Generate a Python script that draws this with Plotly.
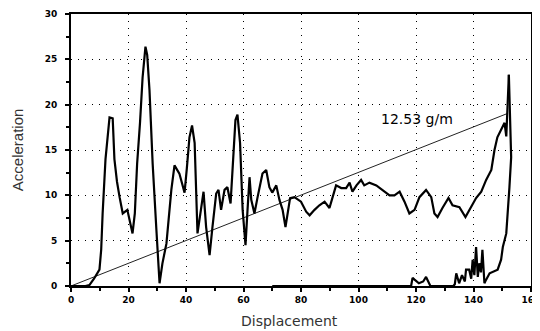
import plotly.graph_objects as go

# Loading curve (displacement, acceleration)
load_x = [0, 5, 6.4, 8, 9.9, 10.5, 11, 12, 13.4, 14.5, 15.1, 16, 16.9, 18, 19.6, 20.5, 21.4, 22.2, 23, 24,
          24.9, 25.9, 26.5, 27.3, 28.4, 29.7, 30.8, 31.8, 33.2, 34.9, 36, 37.7, 38.5, 39.5, 40.3, 41.2, 42.1,
          43, 44, 45.3, 46.1, 47, 48.2, 49.2, 50.5, 51.3, 52.2, 53.4, 54.4, 55.5, 56.2, 57.2, 57.9, 58.8,
          59.7, 60.7, 61.4, 62.1, 62.7, 63.8, 64.9, 66.6, 67.9, 69, 70, 71.4, 72.5, 73.6, 74.6, 75.3, 76.2,
          77.7, 80, 81.8, 83, 84.7, 86.4, 88.2, 89.9, 91, 92.2, 94, 95.7, 96.9, 97.9, 99.3, 100.9, 102,
          103.8, 106.2, 108.4, 110.8, 112.5, 114.3, 116, 117.7, 119.5, 121.2, 123.5, 125.3, 126.4, 127.5,
          129.2, 131.3, 132.7, 135.1, 137.2, 139.2, 140.9, 142.7, 144.4, 146.2, 147.3, 148.3, 149.6, 150.8,
          151.4, 151.9, 152.3]
load_y = [0, 0, 0.1, 0.8, 1.8, 4, 8, 14, 18.6, 18.5, 14, 11.5, 9.8, 8, 8.4, 7, 5.8, 8, 13.5, 18,
          23, 26.4, 25.5, 21.6, 13.5, 6.2, 0.3, 2.5, 4.7, 10.6, 13.3, 12.4, 11.5, 10.3, 13, 16.4, 17.7,
          15.8, 5.8, 8.4, 10.4, 6.5, 3.4, 6.5, 10.2, 10.6, 8.4, 10.6, 10.9, 9.1, 13.5, 18.3, 18.9, 15.8,
          8.4, 4.5, 8.4, 12, 9.5, 8, 9.8, 12.4, 12.8, 10.9, 10.3, 11.1, 9.5, 8.4, 6.5, 8, 9.7,
          9.8, 9.3, 8.2, 7.8, 8.4, 8.9, 9.3, 8.6, 9.8, 11.1, 10.8, 10.8, 11.4, 10.4, 11.1, 11.7, 11.1,
          11.4, 11.1, 10.6, 10, 10, 10.4, 9.3, 8, 8.4, 9.8, 10.6, 9.8, 8, 7.6,
          8.6, 9.7, 8.9, 8.7, 7.6, 8.7, 9.7, 10.4, 11.7, 12.8, 15, 16.4, 17.2, 18,
          16.5, 20.2, 23.3]

# Unloading / return curve
ret_x = [152.3, 152.8, 153.1, 152.5, 151.9, 151.4, 150.2, 149.6, 148.4, 146.7, 145.6, 144.4, 143.8, 143.1,
         142.6, 142, 141.5, 140.9, 140.3, 139.7, 139.2, 138.5, 137.4, 137, 136, 135, 134, 133.5, 133, 125,
         124, 123.5, 122.5, 121, 119.5, 118.8, 118.3, 70]
ret_y = [23.3, 18, 14.2, 10.9, 7.6, 5.8, 4.3, 2.9, 1.8, 1.5, 1.4, 0.7, 0.3, 4,
         1.5, 2.5, 1, 4.3, 1.2, 2.9, 0.8, 1.8, 1.8, 0.5, 1.2, 0.3, 1.4, 0.2, 0, 0,
         0.6, 1.0, 0.5, 0.3, 0.7, 0.9, 0, 0]

# Fitted line endpoints and label
fit_x = [0, 152]
fit_y = [0, 19.05]
fit_label = "12.53 g/m"

x_ticks = [0, 20, 40, 60, 80, 100, 120, 140, 160]
y_ticks = [0, 5, 10, 15, 20, 25, 30]

fig = go.Figure()
fig.add_trace(go.Scatter(x=fit_x, y=fit_y, mode="lines",
                         line=dict(color="#222", width=1), showlegend=False))
fig.add_trace(go.Scatter(x=load_x, y=load_y, mode="lines",
                         line=dict(color="black", width=2.2), showlegend=False))
fig.add_trace(go.Scatter(x=ret_x, y=ret_y, mode="lines",
                         line=dict(color="black", width=2.2), showlegend=False))

fig.add_annotation(x=120.2, y=18.4, text=fit_label, showarrow=False,
                   font=dict(family="DejaVu Sans", size=14, color="black"))
fig.add_annotation(x=0.475, y=-0.13, xref="paper", yref="paper", text="Displacement",
                   showarrow=False, yanchor="middle",
                   font=dict(family="DejaVu Sans", size=14, color="#333"))
fig.add_annotation(x=-0.117, y=0.5, xref="paper", yref="paper", text="Acceleration",
                   showarrow=False, textangle=-90, xanchor="center",
                   font=dict(family="Liberation Sans", size=15, color="#333"))

grid_dash = "1px,6px"
fig.update_xaxes(range=[0, 160], tickvals=x_ticks, ticktext=[str(v) for v in x_ticks],
                 showline=True, mirror=True, linecolor="black", linewidth=2,
                 ticks="outside", ticklen=4, tickcolor="black", tickwidth=2,
                 minor=dict(dtick=10, tick0=0, ticks="outside", ticklen=3, tickcolor="black", showgrid=False),
                 showgrid=True, gridcolor="black", gridwidth=1, griddash=grid_dash,
                 zeroline=False, automargin=False, ticklabeloverflow="allow",
                 tickfont=dict(family="DejaVu Sans", size=9, color="black", weight="bold"))
fig.update_yaxes(range=[0, 30], tickvals=y_ticks, ticktext=[str(v) for v in y_ticks],
                 showline=True, mirror=True, linecolor="black", linewidth=2,
                 ticks="outside", ticklen=4, tickcolor="black", tickwidth=2,
                 minor=dict(dtick=2.5, tick0=0, ticks="outside", ticklen=3, tickcolor="black", showgrid=False),
                 showgrid=True, gridcolor="black", gridwidth=1, griddash=grid_dash,
                 zeroline=False, ticklabelstandoff=6, automargin=False,
                 tickfont=dict(family="DejaVu Sans", size=9, color="black", weight="bold"))

# page body has an 8px default margin, so the figure is sized/offset to compensate
fig.update_layout(width=532, height=323, margin=dict(l=63, r=9, t=6, b=45),
                  paper_bgcolor="white", plot_bgcolor="white", showlegend=False)

fig.write_html("out.html")
